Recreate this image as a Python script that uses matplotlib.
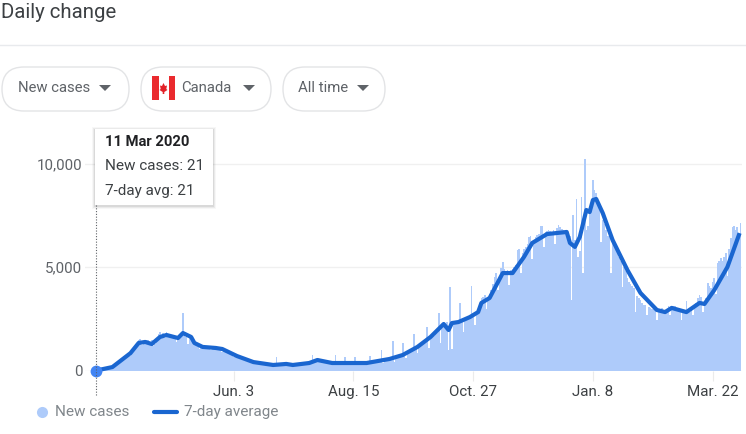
import matplotlib
matplotlib.use('Agg')
import matplotlib.pyplot as plt
import numpy as np
from matplotlib.patches import FancyBboxPatch, Polygon, Rectangle

plt.rcParams['font.family'] = ['Roboto', 'DejaVu Sans']

# days since 11 Mar 2020, one row per week
new_cases = [
    21, 12, 25, 30, 40, 50, 60,
    50, 90, 160, 190, 260, 330, 420,
    330, 480, 580, 640, 780, 690, 760,
    740, 900, 1000, 1130, 1310, 1480, 1550,
    1250, 1370, 1450, 1510, 1470, 1380, 1500,
    1200, 1290, 1550, 1780, 1870, 1640, 1850,
    1610, 1890, 1750, 1720, 1680, 1650, 1590,
    1400, 1620, 1720, 1800, 2790, 1900, 1640,
    1300, 1690, 1660, 1380, 1250, 1300, 1330,
    1050, 1180, 1210, 1150, 1120, 1140, 1170,
    1020, 1130, 1140, 1100, 1120, 1090, 1060,
    930, 1040, 990, 940, 860, 830, 800,
    660, 760, 720, 690, 640, 650, 620,
    480, 590, 560, 520, 470, 450, 430,
    370, 430, 420, 400, 390, 370, 350,
    300, 390, 350, 300, 280, 680, 330,
    280, 330, 350, 370, 330, 320, 330,
    250, 310, 320, 300, 330, 360, 350,
    300, 380, 370, 400, 390, 430, 770,
    410, 530, 620, 560, 550, 580, 520,
    410, 490, 470, 450, 430, 410, 770,
    320, 440, 420, 400, 390, 680, 370,
    300, 390, 380, 380, 680, 370, 360,
    280, 390, 380, 370, 370, 360, 730,
    320, 430, 450, 470, 480, 490, 1010,
    390, 560, 590, 600, 610, 620, 1450,
    430, 660, 680, 700, 710, 1350, 820,
    620, 850, 900, 960, 1020, 1780, 1080,
    850, 1200, 1240, 1290, 1340, 1400, 2120,
    1100, 1560, 1620, 1700, 1760, 1830, 2800,
    1350, 2050, 2200, 2280, 2350, 1000, 4050,
    1050, 2350, 2400, 2380, 2430, 3280, 2450,
    1900, 2500, 2550, 2600, 2620, 4100, 2700,
    2200, 2800, 2900, 3300, 3500, 3550, 3650,
    3000, 3500, 3700, 3900, 4200, 4530, 4700,
    3900, 4500, 4950, 5250, 4900, 4800, 4850,
    4150, 4850, 4900, 5000, 5100, 5830, 5900,
    4700, 5700, 5900, 6000, 6100, 6460, 6500,
    5400, 6300, 6450, 6550, 6600, 7000, 7000,
    6000, 6700, 6750, 6800, 6750, 6700, 6800,
    6100, 6900, 7050, 6950, 6850, 6800, 6750,
    6700, 6600, 6500, 3400, 7500, 6300, 8300,
    5500, 5800, 8400, 4700, 10200, 6800, 7000,
    7900, 8100, 9200, 8700, 8600, 8200, 8000,
    6200, 7300, 7100, 6800, 6500, 6500, 4720,
    6400, 6100, 5900, 5700, 5500, 5300, 4050,
    5000, 4800, 4500, 4300, 4200, 4100, 4000,
    2840, 3600, 3500, 3400, 3300, 3200, 3200,
    2700, 3100, 3050, 3000, 3000, 2950, 2460,
    2900, 3000, 3050, 2950, 2900, 2950, 3150,
    2700, 3100, 3150, 3150, 3050, 3000, 2900,
    2460, 2950, 2900, 3350, 2900, 2850, 3050,
    2700, 3150, 3300, 3500, 3650, 3550, 2840,
    3300, 3500, 4240, 4100, 4000, 4300, 4500,
    3700, 5200, 5300, 5450, 5300, 5500, 5700,
    4600, 5900, 6400, 6940, 7000, 6800, 6950,
    6500, 7130,
]

avg_days = [0, 10, 21, 26, 30, 34, 39, 43, 50, 53, 58, 60, 65, 73, 77, 86, 96, 108,
            116, 120, 130, 135, 144, 165, 179, 187, 196, 204, 212, 215, 217, 221,
            228, 233, 235, 240, 248, 254, 261, 266, 275, 287, 289, 292, 295, 299,
            301, 303, 305, 309, 315, 324, 332, 342, 347, 351, 360, 368, 371, 377,
            385, 392]
avg_values = [21, 190, 860, 1350, 1400, 1300, 1640, 1735, 1590, 1830, 1640, 1350, 1160,
              1110, 1060, 720, 430, 290, 340, 290, 385, 530, 385, 385, 580, 770, 1160,
              1640, 2265, 1975, 2310, 2360, 2600, 2840, 3280, 3520, 4720, 4720, 5500,
              6170, 6600, 6700, 6170, 5980, 6460, 7760, 7660, 8240, 8290, 7610, 6310,
              4870, 3760, 2940, 2840, 3040, 2840, 3280, 3230, 3900, 5010, 6550]

tick_days = [84, 157, 230, 303, 376]
tick_labels = ['Jun. 3', 'Aug. 15', 'Oct. 27', 'Jan. 8', 'Mar. 22']
y_ticks = [0, 5000, 10000]
y_labels = ['0', '5,000', '10,000']

W, H = 746, 434
fig = plt.figure(figsize=(W / 100, H / 100), dpi=100)

# chart axes, placed by pixels
left, right, top, bottom = 85, 742, 120, 371
ax = fig.add_axes([left / W, 1 - bottom / H, (right - left) / W, (bottom - top) / H])
px_per_day = 1.64
px_per_case = 0.02075
ax.set_xlim((left - 96) / px_per_day, (right - 96) / px_per_day)
ax.set_ylim(0, (bottom - top) / px_per_case)

ax.bar(range(len(new_cases)), new_cases, width=1.0, color='#aecbfa', linewidth=0)
ax.plot(avg_days, avg_values, color='#1a66d0', lw=3, solid_joinstyle='round', clip_on=False, zorder=4)
ax.plot(avg_days[0], avg_values[0], 'o', color='#4285f4', ms=8.5, mew=0, clip_on=False, zorder=5)

for s in ax.spines.values():
    s.set_visible(False)
ax.set_yticks(y_ticks, y_labels)
ax.set_xticks(tick_days, tick_labels)
ax.tick_params(axis='y', length=0, pad=2, labelsize=10.9, labelcolor='#5f6368')
ax.tick_params(axis='x', length=7, width=0.8, color='#ebebeb', pad=3, labelsize=10.9, labelcolor='#3c4043')
ax.grid(axis='y', color='#f0f0f0', lw=1)
ax.set_axisbelow(True)

# page furniture on top, in pixel coordinates
ov = fig.add_axes([0, 0, 1, 1], zorder=10)
ov.set_xlim(0, W)
ov.set_ylim(H, 0)
ov.axis('off')

ov.text(1, 12, 'Daily change', fontsize=14.7, color='#3c4043', va='center')
ov.plot([0, W], [45, 45], color='#e8eaed', lw=1)

pills = [(2, 129, 'New cases', 18, 105), (141, 271, 'Canada', 181, 249), (283, 385, 'All time', 298, 363)]
for x0, x1, label, tx, arrow in pills:
    ov.add_patch(FancyBboxPatch((x0 + 22, 67 + 22), x1 - x0 - 44, 0, boxstyle='round,pad=22',
                                fc='white', ec='#e3e4e6', lw=1))
    ov.text(tx, 88, label, fontsize=10.7, color='#5f6368', va='center')
    ov.add_patch(Polygon([(arrow - 6, 85), (arrow + 6, 85), (arrow, 91)], fc='#5f6368', ec='none'))

# flag
ov.add_patch(Rectangle((152, 76), 23, 24, fc='white', ec='none'))
ov.add_patch(Rectangle((152, 76), 6.5, 24, fc='#ea2a2e', ec='none'))
ov.add_patch(Rectangle((168.5, 76), 6.5, 24, fc='#ea2a2e', ec='none'))
ov.add_patch(Polygon([(163.5, 83), (165, 86), (167, 85.5), (166.3, 89), (167.5, 90), (164.3, 92),
                      (164.3, 94), (162.7, 94), (162.7, 92), (159.5, 90), (160.7, 89),
                      (160, 85.5), (162, 86)], fc='#e2232a', ec='none'))

# legend, placed by pixels like the rest of the page
ov.plot(42, 412, 'o', color='#aecbfa', ms=8, mew=0)
ov.text(55, 412, 'New cases', fontsize=11, color='#80868b', va='center')
ov.plot([154, 177], [412, 412], color='#1a66d0', lw=3, solid_capstyle='round')
ov.text(184, 412, '7-day average', fontsize=11, color='#80868b', va='center')

# hover guide and tooltip
ov.plot([96, 96], [205, 395], color='#5f6368', lw=0.8, ls=(0, (1, 1.5)))
for grow, alpha in [(3, 0.03), (2, 0.05), (1, 0.07)]:
    ov.add_patch(Rectangle((95 - grow, 129 - grow + 1), 118 + 2 * grow, 76 + 2 * grow, fc='black', ec='none', alpha=alpha))
ov.add_patch(Rectangle((95, 129), 118, 76, fc='white', ec='none'))
ov.text(105, 142, '11 Mar 2020', fontsize=10.6, fontweight='bold', color='#202124', va='center')
ov.text(105, 166, 'New cases: 21', fontsize=11, color='#3c4043', va='center')
ov.text(105, 191, '7-day avg: 21', fontsize=11, color='#3c4043', va='center')

fig.savefig('out.png', dpi=100, facecolor='white')
